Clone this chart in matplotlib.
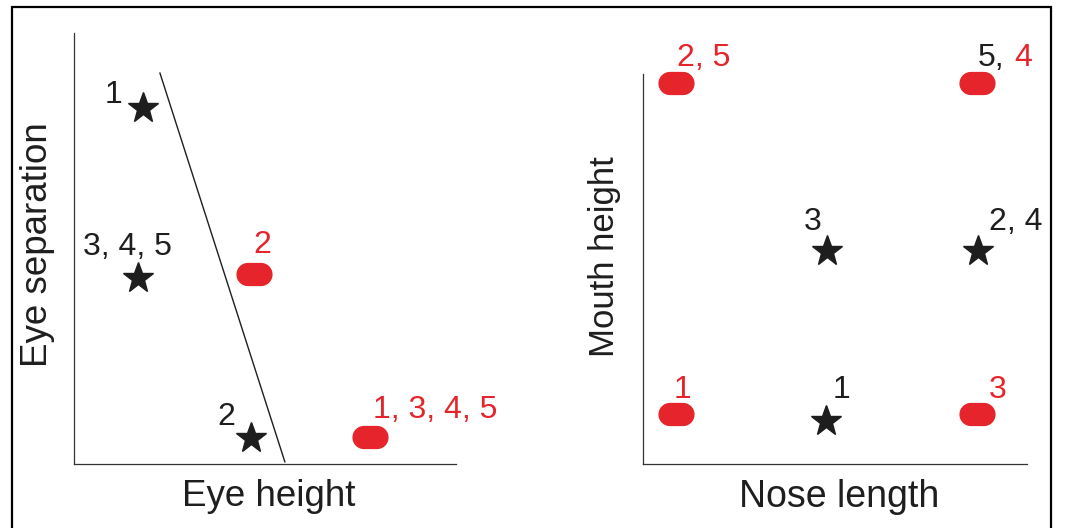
import numpy as np
import matplotlib
matplotlib.use('Agg')
import matplotlib.pyplot as plt
from matplotlib.path import Path
from matplotlib.patches import Rectangle

plt.rcParams['font.family'] = ['Liberation Sans', 'DejaVu Sans']

RED = '#e5242b'
INK = '#1e1e1e'

# Left panel: eye height vs eye separation
eye_star_x = [1.81, 1.68, 4.63]
eye_star_y = [8.26, 4.32, 0.60]
eye_star_labels = ['1', '3, 4, 5', '2']
eye_pill_x = [4.71, 7.75]
eye_pill_y = [4.41, 0.63]
eye_pill_labels = ['2', '1, 3, 4, 5']
boundary_x = [2.25, 5.52]
boundary_y = [9.07, 0.05]

# Right panel: nose length vs mouth height
nose_star_x = [4.79, 8.72, 4.77]
nose_star_y = [5.46, 5.46, 1.10]
nose_star_labels = ['3', '2, 4', '1']
nose_pill_x = [0.86, 8.70, 0.86, 8.70]
nose_pill_y = [9.77, 9.77, 1.28, 1.28]
nose_pill_labels = ['2, 5', '5, 4', '1', '3']


def stadium_marker(w=35, h=22, n=20):
    r = h / 2
    c = w / 2 - r
    t1 = np.linspace(-np.pi / 2, np.pi / 2, n)
    t2 = np.linspace(np.pi / 2, 3 * np.pi / 2, n)
    xs = np.concatenate([c + r * np.cos(t1), -c + r * np.cos(t2)])
    ys = np.concatenate([r * np.sin(t1), r * np.sin(t2)])
    verts = np.column_stack([xs, ys])
    verts = np.vstack([verts, verts[:1]])
    return Path(verts, closed=True)


PILL = stadium_marker()

fig = plt.figure(figsize=(10.68, 5.28), dpi=100)
fig.add_artist(Rectangle((0.0112, -0.02), 0.9728, 1.0067, transform=fig.transFigure,
                         fill=False, edgecolor='black', linewidth=1.6))

ax1 = fig.add_axes([74 / 1068, 64 / 528, 382 / 1068, 431 / 528])
ax2 = fig.add_axes([643 / 1068, 64 / 528, 384 / 1068, 390 / 528])

for ax in (ax1, ax2):
    ax.set_xlim(0, 10)
    ax.set_ylim(0, 10)
    ax.spines[['top', 'right']].set_visible(False)
    for s in ('left', 'bottom'):
        ax.spines[s].set_color('#333333')
        ax.spines[s].set_linewidth(0.9)
    ax.set_xticks([])
    ax.set_yticks([])
    ax.patch.set_alpha(0)

num_kw = dict(fontsize=23, va='center', clip_on=False)

# left panel
ax1.plot(boundary_x, boundary_y, color=INK, lw=1.0)
ax1.plot(eye_star_x, eye_star_y, ls='none', marker='*', ms=23, color=INK, mec=INK)
ax1.plot(eye_pill_x, eye_pill_y, ls='none', marker=PILL, ms=25, color=RED, mec=RED)
ax1.text(1.26, 8.56, eye_star_labels[0], ha='right', color=INK, **num_kw)
ax1.text(1.41, 5.03, eye_star_labels[1], ha='center', color=INK, **num_kw)
ax1.text(4.00, 1.09, eye_star_labels[2], ha='center', color=INK, **num_kw)
ax1.text(4.92, 5.08, eye_pill_labels[0], ha='center', color=RED, **num_kw)
ax1.text(7.83, 1.25, eye_pill_labels[1], ha='left', color=RED, **num_kw)
ax1.set_xlabel('Eye height', fontsize=26.5, color=INK)
ax1.set_ylabel('Eye separation', fontsize=26.5, color=INK)
ax1.xaxis.set_label_coords(0.51, -0.035)
ax1.yaxis.set_label_coords(-0.05, 0.51)

# right panel
ax2.plot(nose_star_x, nose_star_y, ls='none', marker='*', ms=23, color=INK, mec=INK, clip_on=False)
ax2.plot(nose_pill_x, nose_pill_y, ls='none', marker=PILL, ms=25, color=RED, mec=RED, clip_on=False)
ax2.text(4.43, 6.21, nose_star_labels[0], ha='center', color=INK, **num_kw)
ax2.text(9.01, 6.21, nose_star_labels[1], ha='left', color=INK, **num_kw)
ax2.text(5.18, 1.90, nose_star_labels[2], ha='center', color=INK, **num_kw)
ax2.text(0.89, 10.42, nose_pill_labels[0], ha='left', color=RED, **num_kw)
first, second = nose_pill_labels[1].split(', ')
ax2.text(8.72, 10.42, first + ',', ha='left', color=INK, **num_kw)
ax2.text(10.13, 10.42, second, ha='right', color=RED, **num_kw)
ax2.text(1.04, 1.90, nose_pill_labels[2], ha='center', color=RED, **num_kw)
ax2.text(9.24, 1.90, nose_pill_labels[3], ha='center', color=RED, **num_kw)
ax2.set_xlabel('Nose length', fontsize=27, color=INK)
ax2.set_ylabel('Mouth height', fontsize=25, color=INK)
ax2.xaxis.set_label_coords(0.51, -0.039)
ax2.yaxis.set_label_coords(-0.057, 0.531)

fig.savefig('out.png', dpi=100)
